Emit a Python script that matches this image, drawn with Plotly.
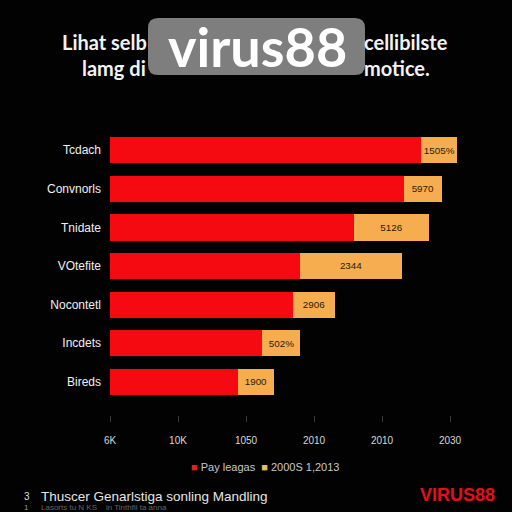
import plotly.graph_objects as go

categories = ["Tcdach", "Convnorls", "Tnidate", "VOtefite", "Nocontetl", "Incdets", "Bireds"]
red_values = [4.57, 4.32, 3.59, 2.79, 2.69, 2.24, 1.88]
orange_values = [0.54, 0.56, 1.10, 1.51, 0.62, 0.56, 0.53]
orange_labels = ["1505%", "5970", "5126", "2344", "2906", "502%", "1900"]
tick_vals = [0, 1, 2, 3, 4, 5]
tick_text = ["6K", "10K", "1050", "2010", "2010", "2030"]
series_names = ["Pay leagas", "2000S 1,2013"]

W, H = 512, 512
L, R, T, B = 110, 470, 131, 415

def px(x):
    return (x - L) / (R - L)

def py(y):
    return (B - y) / (B - T)

RED = "#f50a12"
ORANGE = "#f6ad4f"

fig = go.Figure()
fig.add_trace(go.Bar(
    y=categories, x=red_values, orientation="h", name=series_names[0],
    marker=dict(color=RED, line=dict(width=0)), hoverinfo="skip"))
fig.add_trace(go.Bar(
    y=categories, x=orange_values, orientation="h", name=series_names[1],
    marker=dict(color=ORANGE, line=dict(width=0)),
    text=orange_labels, textposition="inside", insidetextanchor="middle",
    textfont=dict(color="#2a1a08", size=10, family="Liberation Sans"),
    hoverinfo="skip"))

fig.update_layout(
    width=W, height=H, barmode="stack", bargap=0.32,
    paper_bgcolor="#020202", plot_bgcolor="#020202",
    margin=dict(l=L, r=W - R, t=T, b=H - B, pad=0),
    font=dict(family="Liberation Sans", color="#e8e8e8"),
    showlegend=False,
    uniformtext=dict(minsize=9, mode="show"),
)
fig.update_xaxes(range=[0, (R - L) / 68], tickvals=tick_vals, ticktext=tick_text,
                 showgrid=False, zeroline=False, showline=False,
                 ticks="outside", ticklen=6, tickcolor="#3a3a3a", tickwidth=1,
                 ticklabelstandoff=10,
                 tickfont=dict(size=10, color="#d8d8d8"))
fig.update_yaxes(categoryorder="array", categoryarray=categories,
                 range=[6.86, -0.5], showgrid=False, zeroline=False, showline=False,
                 ticks="", ticklabelstandoff=8,
                 tickfont=dict(size=12, color="#f0f0f0"))

ann = []
tf = dict(family="Lato", size=20, color="#f2f2f2")
ann.append(dict(x=px(60), y=py(42), xref="paper", yref="paper", xanchor="left", yanchor="middle",
                text="<b>Lihat selb</b>", showarrow=False, font=tf))
ann.append(dict(x=px(450), y=py(42), xref="paper", yref="paper", xanchor="right", yanchor="middle",
                text="<b>cellibilste</b>", showarrow=False, font=tf))
ann.append(dict(x=px(80), y=py(68), xref="paper", yref="paper", xanchor="left", yanchor="middle",
                text="<b>lamg di</b>", showarrow=False, font=tf))
ann.append(dict(x=px(432), y=py(68), xref="paper", yref="paper", xanchor="right", yanchor="middle",
                text="<b>motice.</b>", showarrow=False, font=tf))
# watermark label
ann.append(dict(x=px(257), y=py(46), xref="paper", yref="paper", xanchor="center", yanchor="middle",
                text="<b>virus88</b>", showarrow=False,
                font=dict(family="Lato", size=54, color="#ffffff")))
# legend
ann.append(dict(x=px(265), y=py(467), xref="paper", yref="paper", xanchor="center", yanchor="middle",
                text=(f"<span style='color:#d8232a'>■</span> {series_names[0]}  "
                      f"<span style='color:#e8be62'>■</span> {series_names[1]}"),
                showarrow=False, font=dict(size=11, color="#c8c8c8")))
# footer
ann.append(dict(x=px(22), y=py(496), xref="paper", yref="paper", xanchor="left", yanchor="middle",
                text="3", showarrow=False, font=dict(size=10, color="#dddddd")))
ann.append(dict(x=px(39), y=py(496), xref="paper", yref="paper", xanchor="left", yanchor="middle",
                text="Thuscer Genarlstiga sonling Mandling", showarrow=False,
                font=dict(size=13.5, color="#e6e6e6")))
ann.append(dict(x=px(22), y=py(507), xref="paper", yref="paper", xanchor="left", yanchor="middle",
                text="1", showarrow=False, font=dict(size=8, color="#999999")))
ann.append(dict(x=px(39), y=py(507), xref="paper", yref="paper", xanchor="left", yanchor="middle",
                text="Lasorts tu N KS    in Tinthfil ta anna", showarrow=False,
                font=dict(size=8, color="#666666")))
ann.append(dict(x=px(497), y=py(495), xref="paper", yref="paper", xanchor="right", yanchor="middle",
                text="<b>VIRUS88</b>", showarrow=False,
                font=dict(family="Liberation Sans", size=18, color="#e3101c")))
fig.update_layout(annotations=ann)

# rounded grey watermark box
x0, x1, y0, y1, r = px(148), px(365), py(18), py(75), 10
rx, ry = r / (R - L), r / (B - T)
path = (f"M {x0+rx},{y0} L {x1-rx},{y0} Q {x1},{y0} {x1},{y0-ry} "
        f"L {x1},{y1+ry} Q {x1},{y1} {x1-rx},{y1} L {x0+rx},{y1} "
        f"Q {x0},{y1} {x0},{y1+ry} L {x0},{y0-ry} Q {x0},{y0} {x0+rx},{y0} Z")
fig.add_shape(type="path", path=path, xref="paper", yref="paper",
              fillcolor="#7e7e7e", line=dict(width=0), layer="above")

fig.write_html("out.html")
